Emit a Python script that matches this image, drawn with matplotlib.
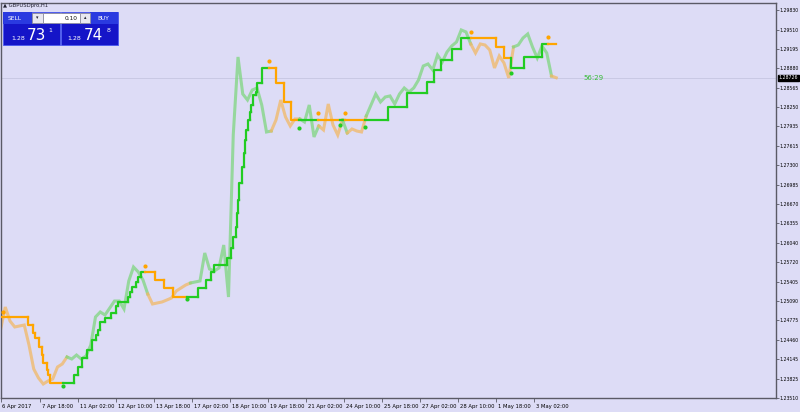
import numpy as np
import matplotlib
matplotlib.use("Agg")
import matplotlib.pyplot as plt
from matplotlib.patches import Rectangle
from matplotlib.transforms import ScaledTranslation

# hourly closes, one value every 4 bars (GBPUSD H1)
close = [1.24618, 1.24992, 1.24764, 1.24667, 1.24683, 1.24699, 1.24373, 1.23982,
         1.23836, 1.23738, 1.23787, 1.23820, 1.24015, 1.24064, 1.24178, 1.24145,
         1.24210, 1.24145, 1.24194, 1.24373, 1.24830, 1.24911, 1.24862, 1.24976,
         1.25090, 1.25090, 1.24960, 1.25416, 1.25644, 1.25563, 1.25432, 1.25204,
         1.25041, 1.25058, 1.25074, 1.25106, 1.25139, 1.25253, 1.25302, 1.25351,
         1.25383, 1.25400, 1.25416, 1.25872, 1.25611, 1.25579, 1.25628, 1.26002,
         1.25155, 1.27794, 1.29065, 1.28462, 1.28364, 1.28527, 1.28560, 1.28283,
         1.27843, 1.27859, 1.28039, 1.28364, 1.28088, 1.27941, 1.28055, 1.28055,
         1.28006, 1.28283, 1.27762, 1.27941, 1.27876, 1.28299, 1.27957, 1.27794,
         1.28039, 1.27827, 1.27892, 1.27859, 1.27843, 1.28104, 1.28283, 1.28462,
         1.28332, 1.28413, 1.28430, 1.28299, 1.28462, 1.28560, 1.28495, 1.28560,
         1.28690, 1.28918, 1.28951, 1.28853, 1.29097, 1.28983, 1.29146, 1.29244,
         1.29309, 1.29505, 1.29472, 1.29277, 1.29130, 1.29277, 1.29260, 1.29179,
         1.28886, 1.29081, 1.28967, 1.28723, 1.29228, 1.29260, 1.29374, 1.29440,
         1.29228, 1.29049, 1.29244, 1.29130, 1.28755, 1.28726]
bar_step = 4

# trailing stop line: bar where level changes, level, trend (+1 up / -1 down)
step_bar = [0, 23, 27, 29, 32, 35, 36, 39, 40, 42,
            53, 62, 65, 69, 73, 77, 80, 82, 84, 88, 93, 97, 99, 107, 109, 111, 114, 116, 118,
            122, 130, 138, 145,
            157, 166, 173, 177, 180, 191, 194, 196, 198, 199, 200, 201, 203, 205, 206, 207,
            208, 210, 211, 213, 215, 216, 220,
            226, 232, 239, 245,
            251, 267, 286, 290,
            307, 326, 342, 359, 365, 371, 380, 388,
            396, 417, 424,
            430, 441, 456,
            461]
step_level = [1.24830, 1.24699, 1.24569, 1.24487, 1.24341, 1.24210, 1.24080, 1.23966, 1.23885, 1.23754,
              1.23754, 1.23885, 1.24015, 1.24162, 1.24292, 1.24455, 1.24536, 1.24618, 1.24748, 1.24813,
              1.24895, 1.25009, 1.25074, 1.25155, 1.25237, 1.25318, 1.25400, 1.25481, 1.25563,
              1.25563, 1.25432, 1.25302, 1.25155,
              1.25155, 1.25302, 1.25432, 1.25563, 1.25677, 1.25791, 1.25954, 1.26133, 1.26296, 1.26524,
              1.26735, 1.27012, 1.27273, 1.27501, 1.27713, 1.27876, 1.28039, 1.28169, 1.28283, 1.28446,
              1.28495, 1.28641, 1.28886,
              1.28886, 1.28641, 1.28332, 1.28039,
              1.28039, 1.28039, 1.28039, 1.28039,
              1.28039, 1.28250, 1.28478, 1.28658, 1.28853, 1.29016, 1.29195, 1.29374,
              1.29374, 1.29228, 1.29049,
              1.28886, 1.29065, 1.29277,
              1.29277]
step_trend = [-1] * 10 + [1] * 19 + [-1] * 4 + [1] * 23 + [-1] * 4 + [1, -1, 1, -1] + \
             [1] * 8 + [-1] * 3 + [1] * 3 + [-1]
last_bar = 468

# signal dots
up_bar = [53, 157, 251, 286, 307, 430]
up_price = [1.23705, 1.25123, 1.27908, 1.27957, 1.27925, 1.28804]
dn_bar = [2, 122, 226, 267, 290, 396, 461]
dn_price = [1.24911, 1.25660, 1.29000, 1.28153, 1.28153, 1.29472, 1.29391]

price_ticks = [1.29830, 1.29510, 1.29195, 1.28880, 1.28565, 1.28250, 1.27935, 1.27615,
               1.27300, 1.26985, 1.26670, 1.26355, 1.26040, 1.25720, 1.25405, 1.25090,
               1.24775, 1.24460, 1.24145, 1.23825, 1.23510]
time_ticks = [0, 33, 65, 97, 129, 161, 193, 225, 257, 289, 321, 353, 385, 417, 449]
time_labels = ['6 Apr 2017', '7 Apr 18:00', '11 Apr 02:00', '12 Apr 10:00', '13 Apr 18:00',
               '17 Apr 02:00', '18 Apr 10:00', '19 Apr 18:00', '21 Apr 02:00', '24 Apr 10:00',
               '25 Apr 18:00', '27 Apr 02:00', '28 Apr 10:00', '1 May 18:00', '3 May 02:00']
bid = 1.28726
timer = '56:29'

BG = '#dddcf6'
GREEN = '#22cc22'
ORANGE = '#ffa500'
GREEN_LT = '#7fd67f'
ORANGE_LT = '#f2b865'

W, H = 800, 412
fig = plt.figure(figsize=(W / 100, H / 100), dpi=100, facecolor=BG)
ax = fig.add_axes([0.5 / W, (H - 398) / H, 775 / W, 395 / H], facecolor=BG)
ax.set_xlim(0, 775 / 1.1875)
ax.set_ylim(1.23510, 1.29944)


def trend_at(b):
    i = np.searchsorted(step_bar, b, side='right') - 1
    return step_trend[max(i, 0)]


# bid line
ax.axhline(bid, color='#c9c9e4', lw=0.7, zorder=1)

# price line coloured by trend
bars = np.arange(len(close)) * bar_step
tr = [trend_at(b) for b in bars]
start = 0
for i in range(1, len(close) + 1):
    if i == len(close) or tr[i] != tr[start]:
        stop = min(i + 1, len(close))
        ax.plot(bars[start:stop], close[start:stop],
                color=GREEN_LT if tr[start] > 0 else ORANGE_LT, lw=2.2, alpha=0.75,
                solid_joinstyle='miter', zorder=2)
        start = i

# stop line
ends = step_bar[1:] + [last_bar]
for i in range(len(step_bar)):
    prev = step_level[i - 1] if i > 0 else step_level[i]
    ax.plot([step_bar[i], step_bar[i], ends[i]], [prev, step_level[i], step_level[i]],
            color=GREEN if step_trend[i] > 0 else ORANGE, lw=1.6,
            solid_capstyle='projecting', zorder=3)

ax.plot(up_bar, up_price, 'o', color=GREEN, ms=3, mec='none', zorder=4)
ax.plot(dn_bar, dn_price, 'o', color=ORANGE, ms=3, mec='none', zorder=4)

ax.text(491, bid, timer, color='#33bb33', fontsize=5, va='center', ha='left')

# axes styling
for s in ax.spines.values():
    s.set_color('#5a5a66')
    s.set_linewidth(1)
ax.yaxis.tick_right()
ax.set_yticks(price_ticks)
ax.set_yticklabels([f'{p:.5f}' for p in price_ticks])
ax.tick_params(axis='y', length=2, width=0.6, color='#5a5a66', labelsize=3.3, pad=1)
ax.set_xticks(time_ticks)
ax.set_xticklabels(time_labels)
ax.tick_params(axis='x', length=3, width=0.6, color='#5a5a66', labelsize=3.8, pad=1.5)
off = ScaledTranslation(2 / 100, 0, fig.dpi_scale_trans)
for lab in ax.get_xticklabels():
    lab.set_horizontalalignment('left')
    lab.set_transform(lab.get_transform() + off)

# bid price label
ax.annotate(f'{bid:.5f}', xy=(1, bid), xycoords=('axes fraction', 'data'),
            xytext=(2.2, 0), textcoords='offset points', fontsize=3.3, color='white',
            va='center', ha='left',
            bbox=dict(boxstyle='square,pad=0.12', fc='black', ec='black'), annotation_clip=False)


# one-click trading panel (pixel coordinates from top-left)
def px(x, y):
    return x / W, 1 - y / H


def box(x, y, w, h, fc, ec='none'):
    fig.patches.append(Rectangle(px(x, y + h), w / W, h / H, transform=fig.transFigure,
                                 fc=fc, ec=ec, lw=0.6, zorder=5))


def txt(x, y, s, size, color='white', ha='left', weight='normal'):
    fig.text(*px(x, y), s, fontsize=size, color=color, ha=ha, va='center',
             weight=weight, zorder=6)


txt(3, 6, '\u25b2 GBPUSDpro,H1', 3.8, color='#202030')
box(3, 12, 57, 33, '#1515c8', '#4a5af0')
box(61, 12, 57, 33, '#1515c8', '#4a5af0')
box(3, 12, 29, 12, '#2a3ae0')
box(90, 12, 28, 12, '#2a3ae0')
box(32, 13, 11, 10, '#e8e8f0', '#9090a0')
box(43, 13, 37, 10, 'white', '#9090a0')
box(80, 13, 10, 10, '#e8e8f0', '#9090a0')
txt(8, 18, 'SELL', 4.2)
txt(97, 18, 'BUY', 4.2)
txt(37.5, 18, '\u25be', 3.5, color='#202030', ha='center')
txt(85, 18, '\u25b4', 3.5, color='#202030', ha='center')
txt(78, 18, '0.10', 4.2, color='#101010', ha='right')
txt(11, 38, '1.28', 4.5)
txt(27, 35, '73', 11)
txt(48, 30, '1', 4.5)
txt(67, 38, '1.28', 4.5)
txt(84, 35, '74', 11)
txt(107, 30, '8', 4.5)

fig.savefig('out.png', dpi=100, facecolor=BG)
